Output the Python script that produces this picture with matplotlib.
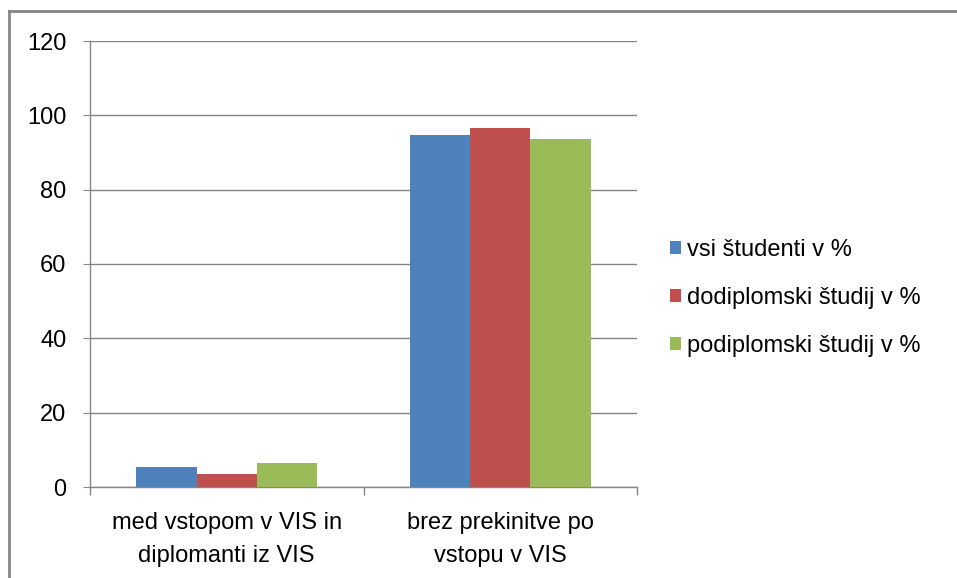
import numpy as np
import matplotlib
matplotlib.use('Agg')
import matplotlib.pyplot as plt
from matplotlib.lines import Line2D

# --- podatki ---
kategorije = ['med vstopom v VIS in\ndiplomanti iz VIS', 'brez prekinitve po\nvstopu v VIS']
serije = ['vsi študenti v %', 'dodiplomski študij v %', 'podiplomski študij v %']
vsi = [5.4, 94.6]
dodiplomski = [3.4, 96.6]
podiplomski = [6.4, 93.6]
y_ticks = [0, 20, 40, 60, 80, 100, 120]

barve = ['#4F81BD', '#C0504D', '#9BBB59']
siva = '#868686'

plt.rcParams['font.family'] = ['Liberation Sans', 'DejaVu Sans']

fig = plt.figure(figsize=(9.57, 5.78), dpi=100)
ax = fig.add_axes([90 / 957, 1 - 487 / 578, (637 - 90) / 957, (487 - 41) / 578])

x = np.arange(len(kategorije))
w = 0.221
for i, (vals, lab) in enumerate(zip([vsi, dodiplomski, podiplomski], serije)):
    ax.bar(x + (i - 1) * w, vals, w, color=barve[i], label=lab, zorder=3)

ax.set_xlim(-0.5, 1.5)
ax.set_ylim(0, 120)
ax.set_yticks(y_ticks)
ax.tick_params(axis='y', labelsize=17, length=5, pad=12, colors='#000000')
ax.tick_params(axis='y', color=siva)
ax.yaxis.grid(True, color=siva, linewidth=1, zorder=0)

ax.set_xticks(x)
ax.set_xticklabels(kategorije, fontsize=17, linespacing=1.65)
ax.tick_params(axis='x', length=0, pad=18)
ax.set_xticks([-0.5, 0.5, 1.5], minor=True)
ax.tick_params(axis='x', which='minor', length=6, color=siva, width=1)

for s in ['top', 'right']:
    ax.spines[s].set_visible(False)
for s in ['left', 'bottom']:
    ax.spines[s].set_color(siva)
    ax.spines[s].set_linewidth(1)

leg = fig.legend(loc='center left', bbox_to_anchor=(670 / 957, 1 - 298 / 578),
                 frameon=False, fontsize=17, handlelength=0.47, handleheight=0.47,
                 handletextpad=0.25, labelspacing=1.1, borderpad=0, borderaxespad=0)

# okvir grafikona
fig.add_artist(Line2D([9 / 957, 9 / 957], [0, 1 - 11 / 578], color=siva, linewidth=2))
fig.add_artist(Line2D([9 / 957, 1], [1 - 11 / 578, 1 - 11 / 578], color=siva, linewidth=2))

fig.savefig('out.png', dpi=100, facecolor='white')
